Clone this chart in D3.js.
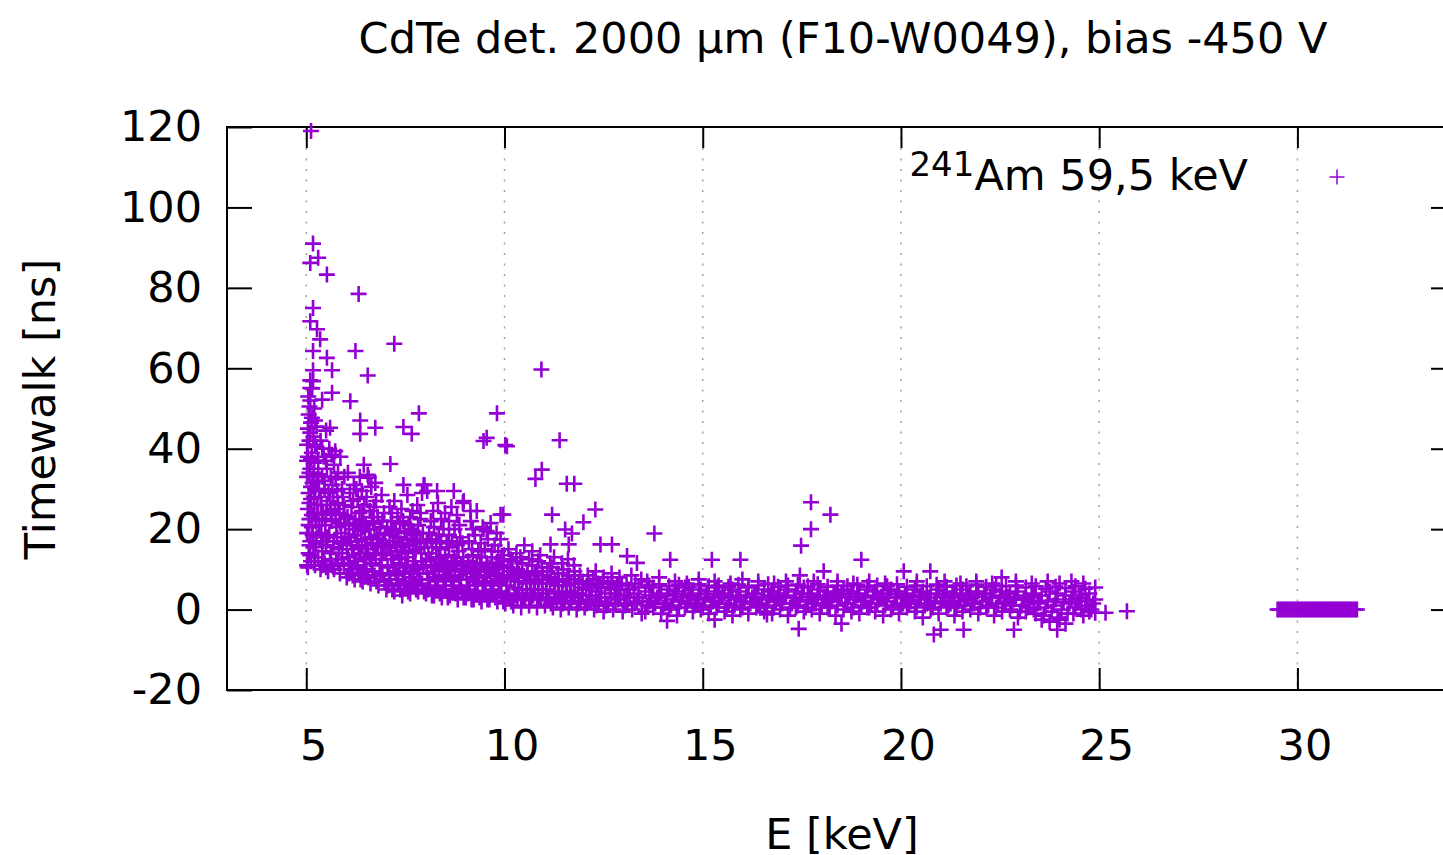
<!DOCTYPE html>
<html>
<head>
<meta charset="utf-8">
<script src="https://cdn.jsdelivr.net/npm/d3@7"></script>
<style>
  html, body { margin: 0; padding: 0; background: #fff; overflow: hidden; }
  svg { display: block; font-family: "DejaVu Sans", Verdana, sans-serif; }
</style>
</head>
<body>
<div id="graph"></div>
<script>
// values: [E keV, timewalk ns]
var title = 'CdTe det. 2000 \u00b5m (F10-W0049), bias -450 V'
var xLabel = 'E [keV]'
var yLabel = 'Timewalk [ns]'
var legendSup = '241'
var legendText = 'Am 59,5 keV'

var energyTicks = [5, 10, 15, 20, 25, 30]
var timewalkTicks = [-20, 0, 20, 40, 60, 80, 100, 120]

var scatterHigh = [
  [5.12,119],[5.17,91],[5.3,87.5],[5.1,86.2],[5.52,83.3],[6.32,78.5],[5.17,75],[5.1,71.7],
  [5.27,69.7],[5.35,67.2],[5.17,64.3],[7.22,66.1],[6.24,64.3],[5.52,62.6],[5.65,59.5],[5.17,59.5],
  [6.55,58.2],[5.17,56.8],[5.1,55.1],[5.65,53.9],[5.4,52.2],[6.11,51.8],[7.84,48.8],[5.14,47.7],
  [6.36,47],[6.74,45.2],[7.45,45.4],[7.66,43.7],[6.36,43.7],[5.6,45.2],[9.55,42.7],[9.81,48.8],
  [9.47,41.9],[10.02,40.9],[10.93,59.7],[11.39,42.1],[10.94,34.8],[10.78,32.5],[11.57,31.3],
  [11.76,31.3],[9.97,23.6],[11.2,23.6],[12.29,24.9],[11.99,21.7],[11.53,19.9],[11.7,18.9],
  [13.78,18.9],[11.16,16.2],[11.62,16.2],[12.42,16.2],[12.71,16.2],[13.09,13.3],[13.34,11.6],
  [14.18,12.4],[15.23,12.4],[15.95,12.4],[17.73,26.7],[18.22,23.6],[17.73,20],[17.48,15.9],
  [19.0,12.4],[18.05,9.5],[7.12,36.2],[5.73,39.4],[6.45,36],[6.57,32.8],[6.74,31.5],[10.06,40.6],
  [9.9,23.6],[9.47,20],[9.14,24.5],[8.97,27],[8.72,29.5],[8.3,29.5],[7.96,31],[7.45,31],[5.86,38]
]

var scatterLow = [
  [17.42,-4.8],[16.62,-1.2],[18.5,-3.5],[20.83,-6.2],[21.0,-5],[21.58,-5],[22.85,-5],[23.94,-5],
  [24.9,-0.8],[25.16,-0.8],[25.7,-0.4],[15.3,-2.5],[14.1,-2.8]
]

var band5to6 = [
  [5.04,10.5],[5.12,12],[5.22,11],[5.3,13],[5.06,14],[5.18,15.5],[5.1,17],[5.26,18],[5.02,19],
  [5.14,20.5],[5.32,21],[5.08,22.5],[5.2,24],[5.04,25],[5.28,26],[5.12,27.5],[5.06,29],[5.22,30],
  [5.16,31.5],[5.02,33],[5.3,33.5],[5.1,35],[5.2,36.5],[5.04,38],[5.14,39],[5.26,40.5],[5.08,42],
  [5.18,43],[5.04,45],[5.12,46.5],[5.06,48.5],[5.22,47],[5.08,50.5],[5.05,53],[5.15,55],[5.1,57],
  [5.36,10],[5.45,12],[5.55,9.5],[5.65,11],[5.4,14.5],[5.5,16],[5.62,14],[5.75,12.5],[5.85,9],
  [5.95,11],[5.38,19],[5.48,21],[5.58,18.5],[5.7,17],[5.82,15],[5.92,16.5],[5.42,24],[5.52,26],
  [5.64,22],[5.76,20.5],[5.88,19],[5.98,21],[5.36,28],[5.46,30],[5.6,27],[5.72,25],[5.84,24],
  [5.94,26],[5.4,33],[5.52,35],[5.66,31],[5.78,29.5],[5.9,30],[5.44,38],[5.58,40],[5.7,36],
  [5.36,42],[5.8,34],[5.5,44.5],[5.96,33],
  [5.02,11],[5.1,13.5],[5.2,13],[5.08,16],[5.24,16.5],[5.16,18.5],[5.06,21],[5.24,22],[5.14,23.5],
  [5.3,24],[5.08,26.5],[5.2,28],[5.32,29.5],[5.12,30.5],[5.26,32],[5.08,34],[5.18,34],[5.3,37],
  [5.02,37],[5.12,37.5],[5.22,41],[5.1,44],[5.26,45.5],[5.02,41],[5.2,50],[5.1,52],
  [5.4,11],[5.5,10.5],[5.6,12.5],[5.7,10],[5.8,11.5],[5.9,12.5],[5.43,17],[5.53,18],[5.68,15.5],
  [5.78,18],[5.9,14],[5.98,18],[5.4,22.5],[5.5,23.5],[5.62,24.5],[5.74,22.5],[5.86,21.5],[5.96,23.5],
  [5.38,26],[5.56,29],[5.68,28],[5.8,26.5],[5.92,28],[5.46,32],[5.62,33],[5.74,32.5],[5.5,37],
  [5.64,38.5],[5.4,40]
]

var band6to8 = [
  [6.02,8],[6.12,10],[6.22,7.5],[6.32,9],[6.42,7],[6.52,10],[6.62,6.5],[6.72,8.5],[6.82,6],[6.92,9],
  [6.05,13],[6.15,15],[6.25,12],[6.35,14],[6.45,12.5],[6.55,15],[6.65,11.5],[6.75,13.5],[6.85,11],
  [6.95,14],[6.08,18],[6.18,20],[6.28,17],[6.38,19.5],[6.48,17.5],[6.58,20],[6.68,16.5],[6.78,18.5],
  [6.88,16],[6.98,19],[6.04,23],[6.14,25.5],[6.24,22.5],[6.34,24],[6.44,22],[6.6,24.5],[6.7,21.5],
  [6.8,23],[6.92,22],[6.1,29],[6.2,31],[6.3,27.5],[6.4,29.5],[6.52,28],[6.64,30.5],[6.76,27],
  [6.9,28.5],[6.35,33],[6.05,34],[6.55,33.5],
  [6.07,9],[6.17,8.5],[6.27,10.5],[6.37,7.5],[6.47,9.5],[6.57,8],[6.67,9.5],[6.77,7],[6.87,8.5],
  [6.97,7],[6.1,11.5],[6.2,13.5],[6.3,11],[6.4,16],[6.5,13],[6.6,12.5],[6.7,14],[6.8,15.5],[6.9,12.5],
  [6.02,16],[6.12,17],[6.22,18.5],[6.32,15.5],[6.42,20.5],[6.52,16],[6.62,18],[6.72,20],[6.84,17.5],
  [6.94,16.5],[6.08,21],[6.2,21.5],[6.3,20],[6.4,24.5],[6.5,21],[6.66,23],[6.86,20.5],[6.96,24],
  [6.18,27],[6.46,26],[6.7,25.5],[6.26,30],
  [7.02,5],[7.12,7.5],[7.22,4.5],[7.32,6.5],[7.42,3.5],[7.52,6],[7.62,4],[7.72,7],[7.82,4.5],
  [7.92,6.5],[7.05,10.5],[7.15,12.5],[7.25,9.5],[7.35,11.5],[7.45,9],[7.55,11],[7.65,9.5],[7.75,12],
  [7.85,9],[7.95,11],[7.08,15.5],[7.18,17],[7.28,14.5],[7.38,16.5],[7.5,14],[7.6,16],[7.7,14.5],
  [7.8,17],[7.9,14],[7.04,20.5],[7.14,22],[7.26,19.5],[7.36,21.5],[7.48,19],[7.58,21],[7.7,19.5],
  [7.82,21],[7.94,19],[7.1,25.5],[7.22,27],[7.4,25],[7.55,28.5],[7.68,24.5],[7.8,26],[7.92,29],
  [7.98,31],
  [7.07,6],[7.17,5],[7.27,7.5],[7.37,5],[7.47,7],[7.57,4.5],[7.67,6.5],[7.77,5],[7.87,7.5],[7.97,4.5],
  [7.1,9],[7.2,11],[7.3,8.5],[7.4,12.5],[7.5,10.5],[7.6,8],[7.7,11],[7.8,10],[7.9,12],
  [7.02,14],[7.14,13.5],[7.24,16],[7.34,13],[7.44,15.5],[7.56,13],[7.66,17.5],[7.76,15],[7.88,16.5],
  [7.98,15.5],[7.1,18.5],[7.2,20],[7.32,18],[7.44,22],[7.54,17.5],[7.64,20],[7.76,18.5],[7.88,22.5],
  [7.16,24],[7.3,23],[7.62,23],[7.88,24]
]

var band8to10 = [
  [8.02,4],[8.12,6],[8.22,3.5],[8.32,5.5],[8.42,3],[8.52,5],[8.62,3.5],[8.72,6],[8.82,2.5],[8.92,4.5],
  [8.05,9],[8.15,10.5],[8.25,8],[8.35,10],[8.45,8.5],[8.55,10.5],[8.65,8],[8.75,10],[8.85,8.5],
  [8.95,9.5],[8.08,14],[8.18,15.5],[8.28,13],[8.38,15],[8.5,13.5],[8.6,15.5],[8.72,13],[8.84,14.5],
  [8.96,13],[8.1,19],[8.22,20.5],[8.34,18.5],[8.46,20],[8.6,18.5],[8.74,20],[8.88,18],[8.2,24.5],
  [8.32,26.5],[8.5,24],[8.66,25.5],[8.8,23.5],[8.95,26.5],[8.05,29.5],
  [8.07,5],[8.17,3.5],[8.27,5],[8.37,4],[8.47,6],[8.57,3],[8.67,5],[8.77,4],[8.87,5.5],[8.97,3],
  [8.1,7.5],[8.2,9.5],[8.3,7],[8.4,11.5],[8.5,7.5],[8.6,9.5],[8.7,7],[8.8,11.5],[8.9,7.5],
  [8.02,12],[8.14,12.5],[8.24,11],[8.34,13],[8.44,11.5],[8.56,12],[8.66,11],[8.78,12],[8.9,11],
  [8.04,17],[8.16,17.5],[8.28,16.5],[8.4,17],[8.54,16.5],[8.68,17],[8.8,16],[8.94,16.5],[8.14,22],
  [8.4,22.5],[8.6,22],[8.86,21],
  [9.02,3],[9.12,5],[9.22,2.5],[9.32,4.5],[9.42,2],[9.52,4],[9.62,2.5],[9.72,5],[9.82,2],[9.92,4],
  [9.05,7.5],[9.15,9],[9.25,7],[9.35,8.5],[9.45,6.5],[9.55,8.5],[9.65,7],[9.75,9],[9.85,6.5],
  [9.95,8],[9.08,12],[9.2,13.5],[9.3,11.5],[9.42,13],[9.55,11.5],[9.68,13],[9.8,11.5],[9.92,12.5],
  [9.1,17],[9.25,18.5],[9.4,16.5],[9.58,17.5],[9.75,16],[9.9,17.5],[9.15,22],[9.45,20.5],
  [9.65,21.5],[9.3,24.5],
  [9.07,4],[9.17,2.5],[9.27,4],[9.37,3],[9.47,4.5],[9.57,2.5],[9.67,4],[9.77,3],[9.87,4.5],[9.97,2],
  [9.1,6],[9.2,8],[9.3,6],[9.4,9.5],[9.5,7],[9.6,9.5],[9.7,6],[9.8,8.5],[9.9,7],
  [9.04,10],[9.14,10.5],[9.26,10],[9.38,11],[9.5,10],[9.62,10.5],[9.74,10],[9.86,11],[9.98,10.5],
  [9.18,15],[9.34,14.5],[9.5,15],[9.68,14.5],[9.84,14.5],[9.98,13.5],[9.2,20],[9.55,19.5],[9.8,19]
]

var band10to13 = [
  [10.02,1.5],[10.12,3.5],[10.22,1],[10.32,3],[10.42,0.5],[10.52,2.5],[10.62,1],[10.72,3.5],
  [10.82,0.5],[10.92,2.5],[10.05,6],[10.15,7.5],[10.25,5.5],[10.35,7],[10.45,5],[10.55,6.5],
  [10.65,5],[10.75,7],[10.85,5],[10.95,6.5],[10.08,10.5],[10.2,12],[10.32,10],[10.45,11.5],
  [10.58,9.5],[10.7,11],[10.82,9.5],[10.94,10.5],[10.1,15],[10.3,14],[10.5,16],[10.7,14.5],
  [10.9,13.5],
  [10.07,4],[10.17,2],[10.27,3.5],[10.37,5],[10.47,2.5],[10.57,4],[10.67,3],[10.77,5],[10.87,2.5],
  [10.97,4],[10.07,8.5],[10.17,9.5],[10.27,8],[10.37,9],[10.47,8],[10.57,8.5],[10.67,7.5],[10.77,9],
  [10.87,7.5],[10.97,8.5],[10.15,12.5],[10.4,13],[10.62,12.5],[10.85,12],
  [11.02,1],[11.12,3],[11.22,0.5],[11.32,2.5],[11.42,0],[11.52,2],[11.62,0.5],[11.72,3],[11.82,0],
  [11.92,2],[11.05,5],[11.15,6.5],[11.25,4.5],[11.35,6],[11.45,4],[11.55,6],[11.65,4.5],[11.75,6.5],
  [11.85,4],[11.95,5.5],[11.08,9.5],[11.2,10.5],[11.34,9],[11.48,10],[11.62,8.5],[11.76,9.5],
  [11.9,8.5],[11.25,13],[11.6,12.5],
  [11.07,2.5],[11.17,1.5],[11.27,3],[11.37,4],[11.47,1.5],[11.57,3.5],[11.67,2],[11.77,4],[11.87,1.5],
  [11.97,3.5],[11.07,7.5],[11.17,8],[11.27,7],[11.37,7.5],[11.47,7],[11.57,7.5],[11.67,6.5],
  [11.77,7.5],[11.87,6.5],[11.97,7],[11.15,11.5],[11.45,11.5],[11.75,11],
  [12.02,0.5],[12.14,2.5],[12.26,0],[12.38,2],[12.5,-0.5],[12.62,1.5],[12.74,0],[12.86,2.5],
  [12.98,-0.5],[13.1,1.5],[13.22,0],[13.34,2],[13.46,-1],[12.06,5],[12.18,6],[12.3,4.5],[12.42,5.5],
  [12.54,4],[12.66,5.5],[12.78,4],[12.9,5],[13.02,3.5],[13.14,5],[13.26,4],[13.38,5.5],[12.1,8.5],
  [12.3,9.5],[12.5,8],[12.7,9],[12.9,8],[13.2,8.5],[13.45,7.5],
  [12.07,1.5],[12.2,3.5],[12.32,1],[12.44,3],[12.56,1],[12.68,3],[12.8,1.5],[12.92,3.5],[13.04,1],
  [13.16,3],[13.28,1.5],[13.4,3],[12.12,6.5],[12.24,7.5],[12.36,6.5],[12.48,7],[12.6,6.5],[12.72,7],
  [12.84,6],[12.96,6.5],[13.08,6],[13.3,6.5],[13.48,2]
]

var band13to25 = [
  [13.55,-0.5],[13.75,0.5],[13.95,-1],[14.15,0],[14.35,-1.5],[14.55,0.5],[14.75,-0.5],[14.95,0],
  [15.15,-1],[15.35,0.5],[15.55,-0.5],[15.75,-1.5],[15.95,0],[16.15,-1],[16.35,0.5],[16.55,-0.5],
  [16.75,-1],[16.95,0],[17.15,-1.5],[17.35,0.5],[17.55,-0.5],[17.75,0],[17.95,-1],[18.15,0.5],
  [18.35,-1.5],[18.55,0],[18.75,-0.5],[18.95,-1],[19.15,0.5],[19.35,-0.5],[19.55,-1.5],[19.75,0],
  [19.95,-1],[20.15,0.5],[20.35,-0.5],[20.55,-2],[20.75,0],[20.95,-1],[21.15,0.5],[21.35,-1.5],
  [21.55,-0.5],[21.75,0],[21.95,-1],[22.15,0.5],[22.35,-1.5],[22.55,-0.5],[22.75,0],[22.95,-2],
  [23.15,-0.5],[23.35,0],[23.55,-2.5],[23.75,-3],[23.95,-2],[24.15,-3.5],[24.35,-1],[24.55,0],
  [24.75,-0.5],
  [13.65,2],[13.85,3],[14.05,1.5],[14.25,2.5],[14.45,2],[14.65,3],[14.85,1.5],[15.05,2.5],[15.25,2],
  [15.45,3],[15.65,1.5],[15.85,2.5],[16.05,2],[16.25,3],[16.45,1.5],[16.65,2.5],[16.85,2],[17.05,3],
  [17.25,1.5],[17.45,2.5],[17.65,2],[17.85,1.5],[18.05,2.5],[18.25,2],[18.45,3],[18.65,1.5],
  [18.85,2.5],[19.05,2],[19.25,1.5],[19.45,2.5],[19.65,2],[19.85,3],[20.05,1.5],[20.25,2],[20.45,2.5],
  [20.65,1.5],[20.85,2],[21.05,3],[21.25,1.5],[21.45,2],[21.65,2.5],[21.85,1.5],[22.05,2],[22.25,3],
  [22.45,1.5],[22.65,2],[22.85,2.5],[23.05,1],[23.25,2],[23.45,1.5],[23.65,0.5],[23.85,1],[24.05,0],
  [24.25,1.5],[24.45,2],[24.65,1],[24.85,1.5],
  [13.55,4.5],[13.75,5.5],[13.95,4],[14.15,5],[14.35,4.5],[14.55,5.5],[14.75,4],[14.95,5],[15.15,4.5],
  [15.35,5.5],[15.55,4],[15.75,5],[15.95,4.5],[16.15,5.5],[16.35,4],[16.55,5],[16.75,4.5],[16.95,4],
  [17.15,5],[17.35,4.5],[17.55,5.5],[17.75,4],[17.95,5],[18.15,4.5],[18.35,4],[18.55,5],[18.75,4.5],
  [18.95,4],[19.15,5],[19.35,4.5],[19.55,4],[19.75,5],[19.95,4.5],[20.15,4],[20.35,5],[20.55,4.5],
  [20.75,4],[20.95,5],[21.15,4.5],[21.35,4],[21.55,5],[21.75,4],[21.95,4.5],[22.15,4],[22.35,5],
  [22.55,4.5],[22.75,4],[22.95,4.5],[23.15,3.5],[23.35,4],[23.55,3.5],[23.75,4.5],[23.95,4],
  [24.15,3.5],[24.35,4.5],[24.55,3.5],[24.75,4],
  [13.6,7],[13.9,8],[14.3,7],[14.6,6.5],[14.9,7.5],[15.3,7],[15.7,6.5],[16.0,7.5],[16.4,7],[16.8,6.5],
  [17.1,7],[17.45,8.5],[17.8,7],[18.4,7],[18.8,6.5],[19.2,7],[19.6,6.5],[20.07,9.5],[20.4,7],
  [20.74,9.5],[21.1,7],[21.5,6.5],[21.9,7],[22.3,6.5],[22.54,8],[22.9,7],[23.3,6.5],[23.7,7],
  [24.0,6.5],[24.3,7],[24.6,6.5],[24.9,5.5],
  [13.6,1],[13.8,1.5],[14.0,0.5],[14.2,1],[14.4,0.5],[14.6,1.5],[14.8,1],[15.0,0.5],[15.2,1],[15.4,1.5],
  [15.6,0.5],[15.8,1],[16.0,0.5],[16.2,1.5],[16.4,1],[16.6,0.5],[16.8,1],[17.0,1.5],[17.2,0.5],
  [17.4,1],[17.6,0.5],[17.8,1.5],[18.0,1],[18.2,0.5],[18.4,1],[18.6,1.5],[18.8,0.5],[19.0,1],
  [19.2,0.5],[19.4,1.5],[19.6,1],[19.8,0.5],[20.0,1],[20.2,1.5],[20.4,0.5],[20.6,1],[20.8,0.5],
  [21.0,1.5],[21.2,1],[21.4,0.5],[21.6,1],[21.8,1.5],[22.0,0.5],[22.2,1],[22.4,0.5],[22.6,1.5],
  [22.8,1],[23.0,-0.5],[23.2,0.5],[23.4,-1],[23.6,-1.5],[23.8,-0.5],[24.0,-2.5],[24.2,-1],[24.4,0.5],
  [24.6,-1.5],[24.8,0],
  [13.7,3.5],[13.9,3],[14.1,3.5],[14.3,3.8],[14.5,3.2],[14.7,3.5],[14.9,3],[15.1,3.8],[15.3,3.2],
  [15.5,3.5],[15.7,3],[15.9,3.5],[16.1,3.2],[16.3,3.8],[16.5,3],[16.7,3.5],[16.9,3.2],[17.1,3.5],
  [17.3,3],[17.5,3.8],[17.7,3.2],[17.9,3.5],[18.1,3],[18.3,3.5],[18.5,3.8],[18.7,3.2],[18.9,3.5],
  [19.1,3],[19.3,3.5],[19.5,3.2],[19.7,3.8],[19.9,3],[20.1,3.5],[20.3,3.2],[20.5,3.5],[20.7,3],
  [20.9,3.8],[21.1,3.2],[21.3,3.5],[21.5,3],[21.7,3.5],[21.9,3.2],[22.1,3.8],[22.3,3],[22.5,3.5],
  [22.7,3.2],[22.9,3],[23.1,2.5],[23.3,3],[23.5,2.2],[23.7,2],[23.9,2.5],[24.1,1.8],[24.3,2.5],
  [24.5,2.8],[24.7,2.2],[24.9,2.5],
  [13.65,6],[13.9,6.3],[14.15,5.8],[14.4,6.2],[14.65,5.7],[14.9,6.3],[15.15,5.8],[15.4,6],[15.65,5.7],
  [15.9,6.2],[16.15,5.8],[16.4,6],[16.65,6.3],[16.9,5.7],[17.15,6],[17.4,6.2],[17.65,5.8],[17.9,6.3],
  [18.15,5.7],[18.4,6],[18.65,5.8],[18.9,6.2],[19.15,5.7],[19.4,6],[19.65,5.8],[19.9,6.3],[20.15,5.7],
  [20.4,6],[20.65,5.8],[20.9,6.2],[21.15,5.7],[21.4,6],[21.65,5.8],[21.9,6.2],[22.15,5.7],[22.4,6],
  [22.65,5.8],[22.9,6],[23.15,5.5],[23.4,5.8],[23.65,5.2],[23.9,5.7],[24.15,5.3],[24.4,5.8],[24.65,5.2]
]

// reference row at 0 ns
var refRowE = [29.5,29.55,29.6,29.65,29.7,29.75,29.8,29.85,29.9,29.95,30,30.05,30.1,30.15,30.2,
  30.25,30.3,30.35,30.4,30.45,30.5,30.55,30.6,30.65,30.7,30.75,30.8,30.85,30.9,30.95,31,31.05,
  31.1,31.15,31.2,31.25,31.3,31.35,31.4,31.45,31.5]
var refRowT = 0

var color = '#9400d3'

var W = 1443, H = 855
var plotL = 227, plotR = 1456, plotT = 127, plotB = 690

var x = d3.scaleLinear().domain([3, 34]).range([plotL, plotR])
var y = d3.scaleLinear().domain([-20, 120]).range([plotB, plotT])

var svg = d3.select('#graph').append('svg')
  .attr('width', W).attr('height', H)

// grid, dotted, x only
svg.append('g').selectAll('line').data(energyTicks).join('line')
  .attr('x1', d => x(d)).attr('x2', d => x(d))
  .attr('y1', plotT).attr('y2', plotB)
  .attr('stroke', '#a0a0a0').attr('stroke-width', 1.5)
  .attr('stroke-dasharray', '2,8.5')

var fs = 43
var plain = d => String(d)

var xAxis = svg.append('g').attr('transform', 'translate(0,' + plotB + ')')
  .call(d3.axisBottom(x).tickValues(energyTicks).tickFormat(plain).tickSize(-22).tickPadding(55))
var xTop = svg.append('g').attr('transform', 'translate(0,' + plotT + ')')
  .call(d3.axisTop(x).tickValues(energyTicks).tickSize(-21).tickFormat(''))
var yAxis = svg.append('g').attr('transform', 'translate(' + plotL + ',0)')
  .call(d3.axisLeft(y).tickValues(timewalkTicks).tickFormat(plain).tickSize(-25).tickPadding(25))
var yRight = svg.append('g').attr('transform', 'translate(' + plotR + ',0)')
  .call(d3.axisRight(y).tickValues(timewalkTicks.slice(1, -1)).tickSize(-25).tickFormat(''))

;[xAxis, xTop, yAxis, yRight].forEach(g => {
  g.select('.domain').remove()
  g.selectAll('.tick line').attr('stroke', '#000').attr('stroke-width', 2)
  g.selectAll('text').attr('font-size', fs).attr('fill', '#000')
    .attr('font-family', '"DejaVu Sans", Verdana, sans-serif')
})
xAxis.selectAll('text').attr('dx', 7).attr('dy', '0.35em')

// border
svg.append('rect')
  .attr('x', plotL).attr('y', plotT)
  .attr('width', plotR - plotL).attr('height', plotB - plotT)
  .attr('fill', 'none').attr('stroke', '#000').attr('stroke-width', 2)

// points
var plus = 'M-8,0H8M0,-8V8'
var allPoints = [].concat(scatterHigh, scatterLow, band5to6, band6to8, band8to10, band10to13, band13to25,
  refRowE.map(e => [e, refRowT]))

svg.append('g').selectAll('path').data(allPoints).join('path')
  .attr('d', plus)
  .attr('transform', d => 'translate(' + x(d[0]) + ',' + y(d[1]) + ')')
  .attr('stroke', color).attr('stroke-width', 2.6).attr('fill', 'none')

// legend
var leg = svg.append('text')
  .attr('x', 1248).attr('y', 190)
  .attr('text-anchor', 'end').attr('font-size', fs).attr('fill', '#000')
leg.append('tspan').attr('font-size', 34).attr('dy', -14).text(legendSup)
leg.append('tspan').attr('dy', 14).text(legendText)

svg.append('path')
  .attr('d', 'M-7.5,0H7.5M0,-7.5V7.5')
  .attr('transform', 'translate(1337,177)')
  .attr('stroke', color).attr('stroke-width', 1.5).attr('fill', 'none')

// titles
svg.append('text').attr('x', 843).attr('y', 53)
  .attr('text-anchor', 'middle').attr('font-size', fs).text(title)
svg.append('text').attr('x', 842).attr('y', 849)
  .attr('text-anchor', 'middle').attr('font-size', fs).text(xLabel)
svg.append('text')
  .attr('transform', 'translate(55,409) rotate(-90)')
  .attr('text-anchor', 'middle').attr('font-size', fs).text(yLabel)
</script>
</body>
</html>
